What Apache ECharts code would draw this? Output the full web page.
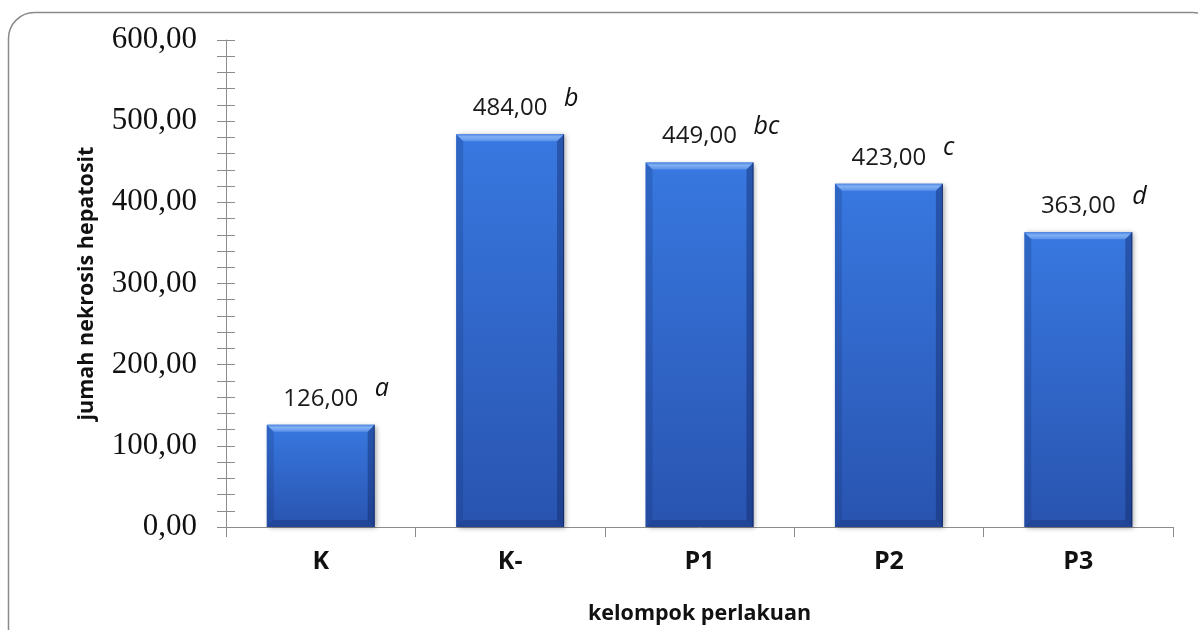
<!DOCTYPE html>
<html>
<head>
<meta charset="utf-8">
<script src="https://cdn.jsdelivr.net/npm/echarts@6/dist/echarts.min.js"></script>
<style>
  html, body { margin: 0; padding: 0; background: #ffffff; }
  #chart { width: 1198px; height: 630px; }
</style>
</head>
<body>
<div id="chart"></div>
<script>
// Treatment groups and their hepatocyte necrosis counts
const categories = ['K', 'K-', 'P1', 'P2', 'P3'];
const necrosisCounts = [126, 484, 449, 423, 363];
// Significance letters shown beside each value
const significanceLetters = ['a', 'b', 'bc', 'c', 'd'];
// Y axis range
const yMin = 0;
const yMax = 600;
const yStep = 100;

const BAR_RATIO = 0.57;
const AXIS_GREY = '#8c8c8c';

const fmt = v => Number(v).toFixed(2).replace('.', ',');

const chart = echarts.init(document.getElementById('chart'), null, { renderer: 'canvas' });

// Bevel overlay drawn on top of each bar, positioned through the axis scales
function renderBevel(params, api) {
  const idx = api.value(0);
  const val = api.value(1);
  const top = api.coord([idx, val]);
  const base = api.coord([idx, 0]);
  const bw = api.size([1, 0])[0] * BAR_RATIO;
  const l = top[0] - bw / 2, r = top[0] + bw / 2, t = top[1], b = base[1];
  const e = 7;
  return {
    type: 'group',
    children: [
      { type: 'polygon', shape: { points: [[l, t], [r, t], [r - e, t + e], [l + e, t + e]] },
        style: { fill: new echarts.graphic.LinearGradient(0, 0, 0, 1, [
          { offset: 0, color: '#4f86e2' }, { offset: 0.4, color: '#80b0f4' }, { offset: 1, color: '#5a91ea' }]) } },
      { type: 'polygon', shape: { points: [[l, t], [l + e, t + e], [l + e, b - e], [l, b]] },
        style: { fill: 'rgba(20,45,110,0.22)' } },
      { type: 'polygon', shape: { points: [[r, t], [r - e, t + e], [r - e, b - e], [r, b]] },
        style: { fill: 'rgba(15,35,95,0.40)' } },
      { type: 'polygon', shape: { points: [[l, b], [r, b], [r - e, b - e], [l + e, b - e]] },
        style: { fill: 'rgba(15,35,95,0.30)' } },
      { type: 'rect', shape: { x: r - 1, y: t, width: 1, height: b - t },
        style: { fill: 'rgba(15,30,80,0.6)' } }
    ]
  };
}

const option = {
  animation: false,
  backgroundColor: '#ffffff',
  graphic: [{
    type: 'rect',
    z: -10,
    shape: { x: 8.5, y: 12.5, width: 1210, height: 650, r: 26 },
    style: { fill: 'none', stroke: '#8a8a8a', lineWidth: 1.5 }
  }],
  grid: { left: 226, right: 25, top: 40, bottom: 100, containLabel: false },
  xAxis: [{
    type: 'category',
    data: categories,
    position: 'bottom',
    axisLine: { show: true, lineStyle: { color: AXIS_GREY, width: 1 } },
    axisTick: { show: true, alignWithLabel: false, inside: false, length: 10, lineStyle: { color: AXIS_GREY } },
    axisLabel: { margin: 22, color: '#111', fontFamily: 'Open Sans', fontWeight: 'bold', fontSize: 25 },
    name: 'kelompok perlakuan',
    nameLocation: 'middle',
    nameGap: 76,
    nameTextStyle: { color: '#111', fontFamily: 'Open Sans', fontWeight: 'bold', fontSize: 21.5 }
  }, {
    type: 'category',
    data: categories,
    position: 'bottom',
    axisLine: { show: false },
    axisTick: { show: true, alignWithLabel: true, inside: true, length: 8, lineStyle: { color: AXIS_GREY } },
    axisLabel: { show: false }
  }],
  yAxis: [{
    type: 'value',
    min: yMin, max: yMax, interval: yStep,
    position: 'left',
    axisLine: { show: true, lineStyle: { color: AXIS_GREY, width: 1 } },
    axisTick: { show: true, inside: false, length: 9, lineStyle: { color: AXIS_GREY } },
    minorTick: { show: true, splitNumber: 5, length: 9, lineStyle: { color: AXIS_GREY } },
    splitLine: { show: false },
    axisLabel: { formatter: fmt, margin: 29, color: '#111', fontFamily: 'Liberation Serif', fontSize: 31 },
    name: 'jumah nekrosis hepatosit',
    nameLocation: 'middle',
    nameGap: 128,
    nameTextStyle: { color: '#111', fontFamily: 'Open Sans', fontWeight: 'bold', fontSize: 21.5 }
  }, {
    type: 'value',
    min: yMin, max: yMax, interval: yStep,
    position: 'left',
    offset: 0,
    axisLine: { show: false },
    axisTick: { show: true, inside: true, length: 9, lineStyle: { color: AXIS_GREY } },
    minorTick: { show: true, splitNumber: 5, length: 9, lineStyle: { color: AXIS_GREY } },
    splitLine: { show: false },
    axisLabel: { show: false }
  }],
  series: [{
    name: 'necrosis',
    type: 'bar',
    data: necrosisCounts,
    barWidth: (BAR_RATIO * 100) + '%',
    barGap: '-100%',
    itemStyle: {
      color: new echarts.graphic.LinearGradient(0, 0, 0, 1, [
        { offset: 0, color: '#3878e0' }, { offset: 1, color: '#2954b0' }]),
      shadowColor: 'rgba(0,0,0,0.35)',
      shadowBlur: 5,
      shadowOffsetX: 2,
      shadowOffsetY: 1
    },
    label: {
      show: true, position: 'top', distance: 14,
      formatter: p => fmt(p.value),
      color: '#1a1a1a', fontFamily: 'Open Sans', fontSize: 24
    },
    z: 2
  }, {
    name: 'letters',
    type: 'bar',
    data: necrosisCounts,
    barWidth: (BAR_RATIO * 100) + '%',
    barGap: '-100%',
    silent: true,
    itemStyle: { color: 'rgba(0,0,0,0)' },
    label: {
      show: true, position: 'top', distance: 14, align: 'left',
      offset: [54, -9],
      formatter: p => significanceLetters[p.dataIndex],
      color: '#111', fontFamily: 'Open Sans', fontStyle: 'italic', fontSize: 25
    },
    z: 1
  }, {
    name: 'bevel',
    type: 'custom',
    renderItem: renderBevel,
    data: necrosisCounts.map((v, i) => [i, v]),
    encode: { x: 0, y: 1 },
    silent: true,
    z: 3
  }]
};

chart.setOption(option);
</script>
</body>
</html>
